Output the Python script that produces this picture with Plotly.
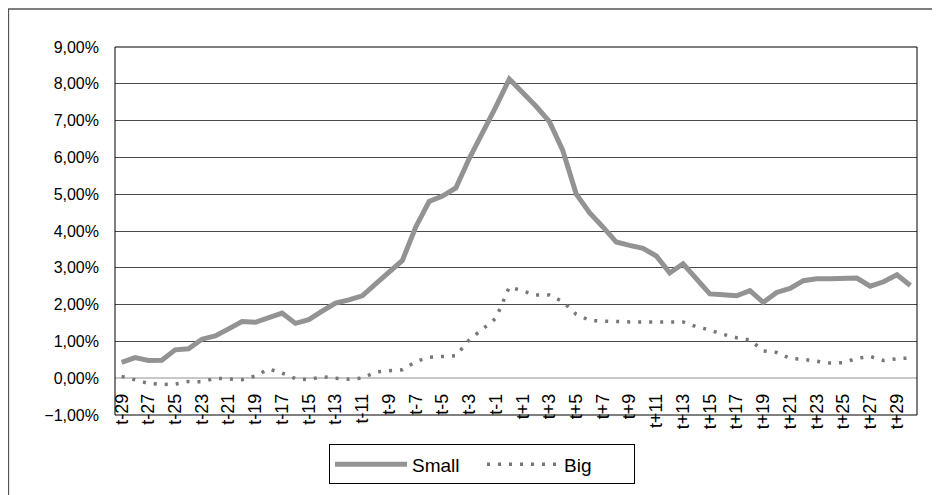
import plotly.graph_objects as go

categories = [f"t-{k}" for k in range(29, 0, -1)] + ["t0"] + [f"t+{k}" for k in range(1, 31)]
tick_labels = categories[::2]

small = [0.43, 0.56, 0.48, 0.49, 0.77, 0.80, 1.06, 1.15, 1.34, 1.54,
         1.52, 1.63, 1.77, 1.49, 1.59, 1.82, 2.04, 2.13, 2.24, 2.56,
         2.88, 3.20, 4.11, 4.80, 4.95, 5.17, 5.97, 6.65, 7.38, 8.13,
         7.78, 7.39, 6.97, 6.19, 5.01, 4.50, 4.11, 3.70, 3.61, 3.53,
         3.32, 2.86, 3.11, 2.70, 2.29, 2.27, 2.24, 2.38, 2.06, 2.33,
         2.44, 2.65, 2.70, 2.70, 2.70, 2.72, 2.50, 2.62, 2.81, 2.52]

big = [0.05, -0.05, -0.14, -0.17, -0.16, -0.09, -0.10, 0.00, -0.02, -0.04,
       0.06, 0.25, 0.14, -0.01, -0.04, 0.04, 0.00, -0.03, 0.00, 0.17,
       0.20, 0.23, 0.45, 0.57, 0.59, 0.61, 1.04, 1.35, 1.63, 2.48,
       2.36, 2.26, 2.26, 2.08, 1.74, 1.57, 1.55, 1.53, 1.53, 1.53,
       1.53, 1.53, 1.53, 1.40, 1.31, 1.19, 1.10, 1.04, 0.74, 0.70,
       0.54, 0.51, 0.45, 0.41, 0.42, 0.54, 0.59, 0.48, 0.53, 0.55]

y_ticks = [-1, 0, 1, 2, 3, 4, 5, 6, 7, 8, 9]

FONT = "Liberation Sans, Arial, sans-serif"

fig = go.Figure()
fig.add_trace(go.Scatter(
    x=categories, y=[v / 100 for v in small], name="Small", mode="lines",
    line=dict(color="#939393", width=5),
))
fig.add_trace(go.Scatter(
    x=categories, y=[v / 100 for v in big], name="Big", mode="lines",
    line=dict(color="#777777", width=3.5, dash="3px,8px"),
))

fig.update_layout(
    width=940, height=495,
    margin=dict(l=107, r=31, t=39, b=88),
    paper_bgcolor="white", plot_bgcolor="white",
    separators=",.",
    font=dict(family=FONT, size=16, color="#000"),
    showlegend=True,
    legend=dict(
        orientation="h", x=0.4576, xanchor="center", y=-0.1345, yanchor="middle",
        bordercolor="#000", borderwidth=1, itemwidth=72,
        entrywidth=65, entrywidthmode="pixels",
        font=dict(family=FONT, size=19, color="#000"),
    ),
    xaxis=dict(
        type="category", categoryorder="array", categoryarray=categories,
        range=[-0.5, len(categories) - 0.5],
        anchor="free", position=0.1,
        showline=False, showgrid=False, zeroline=False,
        tickmode="array", tickvals=tick_labels, ticktext=tick_labels,
        tickangle=-90, ticklabelstandoff=11,
        tickfont=dict(family=FONT, size=18, color="#000"),
    ),
    yaxis=dict(
        range=[-0.01, 0.09], tickmode="array",
        tickvals=[v / 100 for v in y_ticks], tickformat=".2%",
        showgrid=True, gridcolor="#4a4a4a", gridwidth=1,
        zeroline=True, zerolinecolor="#c8c8c8", zerolinewidth=2,
        showline=False, ticklabelstandoff=15,
        tickfont=dict(family=FONT, size=16, color="#000"),
    ),
    shapes=[
        dict(type="rect", xref="paper", yref="paper", x0=0, x1=1, y0=0, y1=1,
             line=dict(color="#000", width=1), layer="above"),
        dict(type="rect", xref="paper", yref="paper", x0=-0.1328, x1=1.1, y0=-0.3, y1=1.1033,
             line=dict(color="#555", width=1.3), layer="above"),
    ],
)

fig.write_html("out.html")
